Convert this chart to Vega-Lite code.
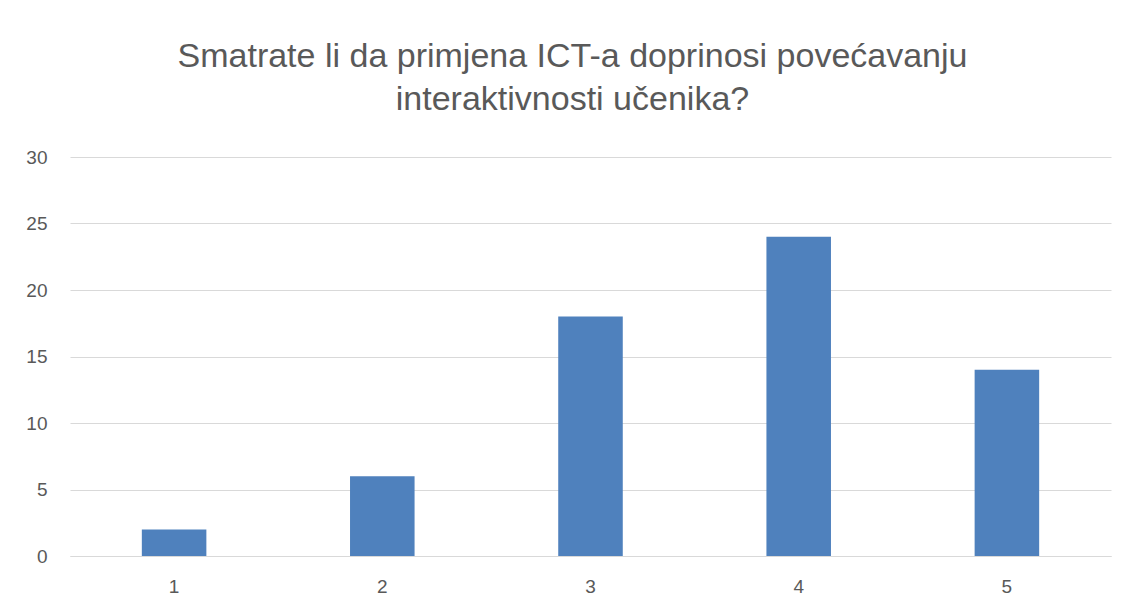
{
  "$schema": "https://vega.github.io/schema/vega-lite/v6.json",
  "autosize": "none",
  "width": 1041,
  "height": 399,
  "padding": {"left": 70, "top": 157, "right": 17, "bottom": 54},
  "background": "white",
  "config": {"view": {"stroke": null}, "font": "Liberation Sans"},
  "title": {
    "text": ["Smatrate li da primjena ICT-a doprinosi povećavanju", "interaktivnosti učenika?"],
    "fontSize": 34,
    "fontWeight": "normal",
    "color": "#595959",
    "font": "Liberation Sans",
    "anchor": "middle",
    "dx": -18,
    "offset": 31,
    "lineHeight": 43
  },
  "data": {"values": [
    {"odgovor": "1", "broj": 2},
    {"odgovor": "2", "broj": 6},
    {"odgovor": "3", "broj": 18},
    {"odgovor": "4", "broj": 24},
    {"odgovor": "5", "broj": 14}
  ]},
  "mark": {"type": "bar", "color": "#4f81bd"},
  "encoding": {
    "x": {
      "field": "odgovor", "type": "nominal",
      "scale": {"paddingInner": 0.69, "paddingOuter": 0.345},
      "axis": {"title": null, "labelAngle": 0, "labelFontSize": 19, "labelColor": "#595959", "labelPadding": 21, "ticks": false, "domainColor": "#d9d9d9", "domainWidth": 1, "grid": false}
    },
    "y": {
      "field": "broj", "type": "quantitative",
      "scale": {"domain": [0, 30]},
      "axis": {"title": null, "values": [0, 5, 10, 15, 20, 25, 30], "labelFontSize": 19, "labelColor": "#595959", "labelPadding": 23, "ticks": false, "domain": false, "gridColor": "#d9d9d9", "gridWidth": 1}
    }
  }
}
